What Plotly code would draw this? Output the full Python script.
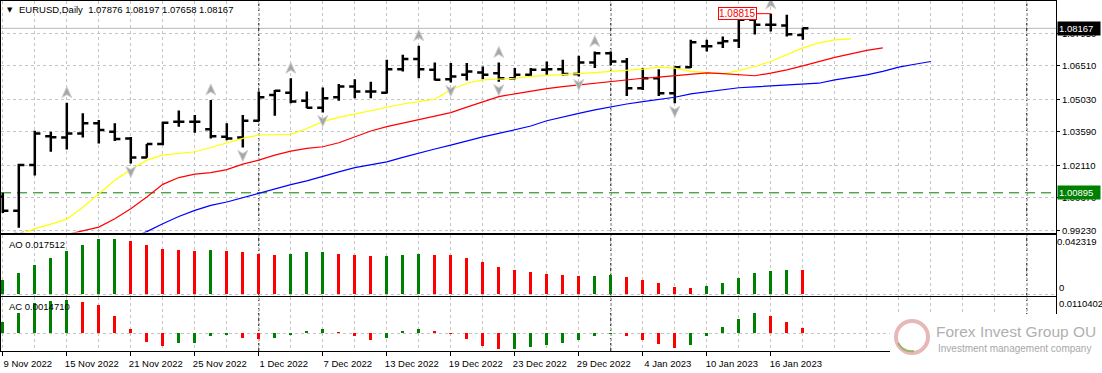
import plotly.graph_objects as go

# ---------------- data ----------------
dates = ["9 Nov 2022", "10 Nov 2022", "11 Nov 2022", "14 Nov 2022", "15 Nov 2022", "16 Nov 2022",
         "17 Nov 2022", "18 Nov 2022", "21 Nov 2022", "22 Nov 2022", "23 Nov 2022", "24 Nov 2022",
         "25 Nov 2022", "28 Nov 2022", "29 Nov 2022", "30 Nov 2022", "1 Dec 2022", "2 Dec 2022",
         "5 Dec 2022", "6 Dec 2022", "7 Dec 2022", "8 Dec 2022", "9 Dec 2022", "12 Dec 2022",
         "13 Dec 2022", "14 Dec 2022", "15 Dec 2022", "16 Dec 2022", "19 Dec 2022", "20 Dec 2022",
         "21 Dec 2022", "22 Dec 2022", "23 Dec 2022", "26 Dec 2022", "27 Dec 2022", "28 Dec 2022",
         "29 Dec 2022", "30 Dec 2022", "2 Jan 2023", "3 Jan 2023", "4 Jan 2023", "5 Jan 2023",
         "6 Jan 2023", "9 Jan 2023", "10 Jan 2023", "11 Jan 2023", "12 Jan 2023", "13 Jan 2023",
         "16 Jan 2023", "17 Jan 2023", "18 Jan 2023"]

bar_open = [1.0072, 1.0010, 1.0212, 1.0340, 1.0334, 1.0352, 1.0397, 1.0359, 1.0330, 1.0246,
            1.0305, 1.0404, 1.0404, 1.0370, 1.0337, 1.0334, 1.0408, 1.0522, 1.0532, 1.0496,
            1.0466, 1.0512, 1.0559, 1.0537, 1.0532, 1.0636, 1.0681, 1.0633, 1.0592, 1.0611,
            1.0621, 1.0618, 1.0596, 1.0611, 1.0633, 1.0636, 1.0615, 1.0666, 1.0707, 1.0670,
            1.0552, 1.0596, 1.0530, 1.0645, 1.0737, 1.0752, 1.0763, 1.0855, 1.0833, 1.0829,
            1.07876]
bar_high = [1.0090, 1.0218, 1.0364, 1.0359, 1.0488, 1.0441, 1.0411, 1.0397, 1.0336, 1.0305,
            1.0404, 1.0453, 1.0433, 1.0500, 1.0397, 1.0433, 1.0537, 1.0544, 1.0596, 1.0537,
            1.0555, 1.0571, 1.0592, 1.0581, 1.0678, 1.0700, 1.0740, 1.0666, 1.0663, 1.0663,
            1.0648, 1.0666, 1.0641, 1.0641, 1.0670, 1.0678, 1.0695, 1.0714, 1.0714, 1.0685,
            1.0641, 1.0636, 1.0648, 1.0766, 1.0766, 1.0781, 1.0863, 1.0877, 1.08815, 1.0877,
            1.08197]
bar_low = [1.0000, 0.9935, 1.0166, 1.0271, 1.0281, 1.0334, 1.0308, 1.0319, 1.0219, 1.0244,
           1.0300, 1.0382, 1.0355, 1.0330, 1.0322, 1.0290, 1.0405, 1.0430, 1.0485, 1.0463,
           1.0444, 1.0497, 1.0508, 1.0508, 1.0528, 1.0626, 1.0596, 1.0586, 1.0577, 1.0586,
           1.0592, 1.0581, 1.0592, 1.0601, 1.0611, 1.0608, 1.0604, 1.0641, 1.0655, 1.0518,
           1.0544, 1.0518, 1.0485, 1.0641, 1.0714, 1.0730, 1.0730, 1.0789, 1.0803, 1.0781,
           1.07658]
bar_close = [1.0010, 1.0212, 1.0352, 1.0335, 1.0352, 1.0397, 1.0367, 1.0327, 1.0246, 1.0305,
             1.0399, 1.0404, 1.0404, 1.0340, 1.0330, 1.0408, 1.0512, 1.0541, 1.0493, 1.0466,
             1.0508, 1.0559, 1.0537, 1.0537, 1.0636, 1.0681, 1.0636, 1.0589, 1.0604, 1.0626,
             1.0611, 1.0596, 1.0611, 1.0633, 1.0636, 1.0615, 1.0666, 1.0707, 1.0670, 1.0552,
             1.0596, 1.0530, 1.0645, 1.0755, 1.0737, 1.0759, 1.0855, 1.0833, 1.0833, 1.0790,
             1.08167]

# Alligator-style lines (already shifted): first bar position + values
lips_start = 1
lips = [0.9903, 0.9931, 0.9951, 0.9973, 1.0026, 1.0086, 1.0145, 1.0192, 1.0234, 1.0256,
        1.0262, 1.0271, 1.0290, 1.0311, 1.0330, 1.0345, 1.0348, 1.0348, 1.0374, 1.0404,
        1.0423, 1.0438, 1.0453, 1.0468, 1.0482, 1.0493, 1.0503, 1.0545, 1.0574, 1.0589,
        1.0592, 1.0596, 1.0604, 1.0607, 1.0611, 1.0616, 1.0621, 1.0626, 1.0629, 1.0636,
        1.0645, 1.0641, 1.0626, 1.0620, 1.0616, 1.0630, 1.0648, 1.0670, 1.0700, 1.0730,
        1.0752, 1.0766, 1.0770]
teeth_start = 4
teeth = [0.9905, 0.9923, 0.9938, 0.9975, 1.0019, 1.0071, 1.0127, 1.0157, 1.0172, 1.0179,
         1.0192, 1.0216, 1.0234, 1.0256, 1.0274, 1.0286, 1.0293, 1.0311, 1.0337, 1.0363,
         1.0382, 1.0397, 1.0411, 1.0426, 1.0444, 1.0468, 1.0493, 1.0515, 1.0527, 1.0540,
         1.0550, 1.0559, 1.0567, 1.0574, 1.0582, 1.0589, 1.0596, 1.0601, 1.0607, 1.0616,
         1.0620, 1.0616, 1.0610, 1.0607, 1.0619, 1.0633, 1.0651, 1.0670, 1.0688, 1.0704,
         1.0719, 1.0730]
jaw_start = 8
jaw = [0.9890, 0.9918, 0.9953, 0.9985, 1.0012, 1.0034, 1.0049, 1.0068, 1.0089, 1.0108,
       1.0126, 1.0142, 1.0163, 1.0182, 1.0201, 1.0212, 1.0226, 1.0246, 1.0266, 1.0283,
       1.0300, 1.0319, 1.0337, 1.0352, 1.0367, 1.0385, 1.0408, 1.0426, 1.0441, 1.0456,
       1.0470, 1.0482, 1.0493, 1.0503, 1.0512, 1.0527, 1.0535, 1.0544, 1.0554, 1.0558,
       1.0562, 1.0565, 1.0567, 1.0574, 1.0589, 1.0599, 1.0611, 1.0626, 1.0645, 1.0658,
       1.0670]

ao_values = [0.0103, 0.0155, 0.0210, 0.0261, 0.0311, 0.0354, 0.0395, 0.0398, 0.0383, 0.0349,
             0.0325, 0.0318, 0.0311, 0.0318, 0.0311, 0.0299, 0.0287, 0.0282, 0.0289, 0.0299,
             0.0304, 0.0289, 0.0282, 0.0270, 0.0272, 0.0282, 0.0289, 0.0284, 0.0281, 0.0258,
             0.0232, 0.0198, 0.0175, 0.0160, 0.0146, 0.0139, 0.0131, 0.0133, 0.0139, 0.0124,
             0.0103, 0.0081, 0.0053, 0.0045, 0.0060, 0.0081, 0.0117, 0.0153, 0.0167, 0.0176,
             0.017512]
ac_values = [0.0035, 0.0062, 0.0093, 0.0097, 0.0100, 0.0094, 0.0085, 0.0052, 0.0013, -0.0025,
             -0.0040, -0.0030, -0.0028, -0.0008, -0.0006, -0.0013, -0.0017, -0.0013, -0.0004, 0.0007,
             0.0013, 0.0004, -0.0008, -0.0020, -0.0013, 0.0007, 0.0013, 0.0007, -0.0002, -0.0017,
             -0.0038, -0.0049, -0.0048, -0.0043, -0.0035, -0.0028, -0.0020, -0.0008, -0.0002, -0.0008,
             -0.0020, -0.0032, -0.0044, -0.0035, -0.0008, 0.0019, 0.0043, 0.0062, 0.0052, 0.0034,
             0.001471]

up_fractals = [4, 13, 18, 26, 31, 37, 48]
down_fractals = [1, 8, 15, 20, 28, 31, 36, 42]
price_ticks = [0.99230, 1.00670, 1.02110, 1.03590, 1.05030, 1.06510, 1.07950]
bid_price = 1.08167
level_price = 1.00895
high_mark = 1.08815
period_separators = [16, 38, 64]
ao_scale_max = 0.042319
ac_scale_max = 0.0110402
symbol_name = "EURUSD,Daily"

# ---------------- layout geometry (pixels) ----------------
W, H = 1102, 373
ML, MR, MT, MB = 1, 46, 1, 22
PW = W - ML - MR
PH = H - MT - MB
BOTTOM = H - MB


def fx(px):
    return (px - ML) / PW


def fy(py):
    return (BOTTOM - py) / PH


n = len(dates)
idx = list(range(n))
BAR_PX = 16.0
BAR0_PX = 2.8
x_range = [(ML - BAR0_PX) / BAR_PX, (ML + PW - BAR0_PX) / BAR_PX]

main_dom = [fy(232.5), fy(1)]
ao_dom = [fy(295.7), fy(235)]
ac_dom = [0, fy(297)]

# main price range: 2262 px per unit, 1.0651 at y=65.8
ppu = 2262.0
main_range = [1.0651 - (232.5 - 65.8) / ppu, 1.0651 + (65.8 - 1) / ppu]
ao_range = [-(1.4 / 59.3) * ao_scale_max, ao_scale_max]
ac_range = [-(17.7 / 36.3) * ac_scale_max, ac_scale_max]

GREEN = "#008000"
RED = "#ff0000"
GRID = "#c4c4c4"
FONT = "Liberation Sans, Arial, sans-serif"


def osc_colors(vals):
    cols = []
    for i, v in enumerate(vals):
        if i == 0 or v > vals[i - 1]:
            cols.append(GREEN)
        else:
            cols.append(RED)
    return cols


fig = go.Figure()

fig.add_trace(go.Ohlc(
    x=idx, open=bar_open, high=bar_high, low=bar_low, close=bar_close,
    increasing=dict(line=dict(color="black", width=2.5)),
    decreasing=dict(line=dict(color="black", width=2.5)),
    tickwidth=0.35, xaxis="x", yaxis="y", showlegend=False, hoverinfo="skip"))

for start, vals, col in [(lips_start, lips, "#ffff00"), (teeth_start, teeth, "#ff0000"),
                         (jaw_start, jaw, "#0000ff")]:
    fig.add_trace(go.Scatter(x=list(range(start, start + len(vals))), y=vals, mode="lines",
                             line=dict(color=col, width=1.2), xaxis="x", yaxis="y",
                             showlegend=False, hoverinfo="skip"))

fig.add_trace(go.Bar(x=idx, y=ao_values, marker=dict(color=osc_colors(ao_values), line=dict(width=0)),
                     width=0.18, xaxis="x2", yaxis="y2", showlegend=False, hoverinfo="skip"))
fig.add_trace(go.Scatter(x=[None], y=[None], xaxis="x2", yaxis="y4", showlegend=False, hoverinfo="skip"))
fig.add_trace(go.Bar(x=idx, y=ac_values, marker=dict(color=osc_colors(ac_values), line=dict(width=0)),
                     width=0.18, xaxis="x3", yaxis="y3", showlegend=False, hoverinfo="skip"))

tickfont = dict(family=FONT, size=9.5, color="black")
frame = dict(showline=True, mirror=True, linecolor="black", linewidth=1, automargin=False)

xcommon = dict(range=x_range, autorange=False, domain=[0, 1], tickmode="linear", tick0=0, dtick=2,
               showticklabels=False, ticks="", showgrid=True, gridcolor=GRID, griddash="3px,3px",
               gridwidth=1, zeroline=False, **frame)

tick_idx = list(range(0, n, 4))
layout = dict(
    width=W, height=H, margin=dict(l=ML, r=MR, t=MT, b=MB, pad=0),
    paper_bgcolor="white", plot_bgcolor="white", showlegend=False, hovermode=False,
    bargap=0,
    xaxis=dict(anchor="y", rangeslider=dict(visible=False), **xcommon),
    xaxis2=dict(anchor="y2", **xcommon),
    xaxis3=dict(anchor="y3", range=x_range, autorange=False, domain=[0, 1],
                tickmode="array", tickvals=tick_idx, ticktext=[dates[i] for i in tick_idx],
                ticks="outside", ticklen=4, tickcolor="black", tickfont=tickfont,
                ticklabelshift=25, showgrid=True, gridcolor=GRID, griddash="3px,3px",
                minor=dict(tickmode="linear", tick0=0, dtick=2, showgrid=True, gridcolor=GRID,
                           griddash="3px,3px", ticks=""),
                zeroline=False, **frame),
    yaxis=dict(anchor="x", domain=main_dom, range=main_range, autorange=False, side="right",
               tickmode="array", tickvals=price_ticks, ticktext=[f"{v:.5f}" for v in price_ticks],
               ticks="outside", ticklen=3, tickcolor="black", tickfont=tickfont,
               showgrid=True, gridcolor=GRID, griddash="3px,3px", zeroline=False, **frame),
    yaxis2=dict(anchor="x2", domain=ao_dom, range=ao_range, autorange=False, side="right",
                tickmode="array", tickvals=[0], ticktext=["0"], ticklabelposition="outside top",
                ticks="", tickfont=tickfont, showgrid=True, gridcolor=GRID, griddash="3px,3px",
                zeroline=False, **frame),
    yaxis4=dict(anchor="x2", overlaying="y2", range=ao_range, autorange=False, side="right",
                tickmode="array", tickvals=[ao_scale_max], ticktext=[f"{ao_scale_max:.6f}"],
                ticklabelposition="outside bottom", ticks="", tickfont=tickfont,
                showgrid=False, zeroline=False, showline=False, automargin=False),
    yaxis3=dict(anchor="x3", domain=ac_dom, range=ac_range, autorange=False, side="right",
                tickmode="array", tickvals=[ac_scale_max, 0], ticktext=[f"{ac_scale_max:.7f}", ""],
                ticklabelposition="outside bottom", ticks="", tickfont=tickfont,
                showgrid=True, gridcolor=GRID, griddash="3px,3px", zeroline=False, **frame),
)
fig.update_layout(**layout)

shapes = []
# bid line and horizontal level
shapes.append(dict(type="line", xref="x domain", x0=0, x1=1, yref="y", y0=bid_price, y1=bid_price,
                   line=dict(color="#b8b8b8", width=1), layer="below"))
shapes.append(dict(type="line", xref="x domain", x0=0, x1=1, yref="y", y0=level_price, y1=level_price,
                   line=dict(color=GREEN, width=1, dash="10px,6px"), layer="below"))
# period separators through all panes
for b in period_separators:
    shapes.append(dict(type="line", xref="x", x0=b, x1=b, yref="paper", y0=0, y1=1,
                       line=dict(color="black", width=1, dash="3px,2px"), layer="below"))
# fractal arrows
for b in up_fractals:
    shapes.append(dict(type="path", xref="x", yref="y", xsizemode="pixel", ysizemode="pixel",
                       xanchor=b, yanchor=bar_high[b], path="M0,16 L5,5 L0,8 L-5,5 Z",
                       fillcolor="#a6a6a6", line=dict(color="#d0d0d0", width=1), layer="above"))
for b in down_fractals:
    shapes.append(dict(type="path", xref="x", yref="y", xsizemode="pixel", ysizemode="pixel",
                       xanchor=b, yanchor=bar_low[b], path="M0,-14 L5,-3 L0,-6 L-5,-3 Z",
                       fillcolor="#a6a6a6", line=dict(color="#d0d0d0", width=1), layer="above"))
# logo area
shapes.append(dict(type="rect", xref="paper", yref="paper", x0=fx(890), x1=fx(1103), y0=fy(374), y1=fy(314),
                   fillcolor="white", line=dict(width=0), layer="above"))
shapes.append(dict(type="circle", xref="paper", yref="paper", x0=fx(896), x1=fx(928), y0=fy(353), y1=fy(321),
                   fillcolor="rgba(0,0,0,0)", line=dict(color="#e6b8b8", width=4), layer="above"))
shapes.append(dict(type="path", xref="paper", yref="paper",
                   path=f"M{fx(898)},{fy(343)} Q{fx(904)},{fy(353)} {fx(914)},{fy(351)}",
                   line=dict(color="#9ab36a", width=2), layer="above"))
fig.update_layout(shapes=shapes)

ann = []
ann.append(dict(xref="paper", yref="paper", x=fx(10), y=fy(10), text="▼", showarrow=False,
                font=dict(family="DejaVu Sans", size=7, color="black"), xanchor="center", yanchor="middle"))
ann.append(dict(xref="paper", yref="paper", x=fx(17), y=fy(10),
                text=f"{symbol_name}  {bar_open[-1]:.5f} {bar_high[-1]:.5f} {bar_low[-1]:.5f} {bar_close[-1]:.5f}",
                showarrow=False, font=dict(family=FONT, size=9.5, color="black"), xanchor="left", yanchor="middle"))
ann.append(dict(xref="paper", yref="paper", x=fx(7), y=fy(244), text=f"AO {ao_values[-1]:.6f}",
                showarrow=False, font=dict(family=FONT, size=9.5, color="black"), xanchor="left", yanchor="middle"))
ann.append(dict(xref="paper", yref="paper", x=fx(7), y=fy(306), text=f"AC {ac_values[-1]:.7f}",
                showarrow=False, font=dict(family=FONT, size=9.5, color="black"), xanchor="left", yanchor="middle"))
ann.append(dict(xref="paper", yref="y", x=fx(1057), y=bid_price, text=f"{bid_price:.5f}", showarrow=False,
                font=dict(family=FONT, size=9.5, color="white"), bgcolor="black", borderpad=1,
                width=40, align="left", xanchor="left", yanchor="middle"))
ann.append(dict(xref="paper", yref="y", x=fx(1057), y=level_price, text=f"{level_price:.5f}", showarrow=False,
                font=dict(family=FONT, size=9.5, color="white"), bgcolor=GREEN, borderpad=1,
                width=40, align="left", xanchor="left", yanchor="middle"))
ann.append(dict(xref="x", yref="y", x=bar_high.index(high_mark), y=high_mark, text=f"{high_mark:.5f}",
                showarrow=True, arrowhead=0, arrowwidth=1, arrowcolor=RED, ax=-33, ay=0,
                font=dict(family=FONT, size=10, color=RED), bgcolor="white", bordercolor=RED,
                borderwidth=1, borderpad=0))
ann.append(dict(xref="paper", yref="paper", x=fx(934), y=fy(331), text="Forex Invest Group OU",
                showarrow=False, font=dict(family=FONT, size=15.5, color="#b0b0b0"),
                xanchor="left", yanchor="middle"))
ann.append(dict(xref="paper", yref="paper", x=fx(936), y=fy(348), text="Investment management company",
                showarrow=False, font=dict(family=FONT, size=10, color="#a8a8a8"), xanchor="left", yanchor="middle"))
fig.update_layout(annotations=ann)

fig.write_html("out.html", config={"displayModeBar": False, "staticPlot": True},
               post_script="document.body.style.margin='0px';document.body.style.padding='0px';")
